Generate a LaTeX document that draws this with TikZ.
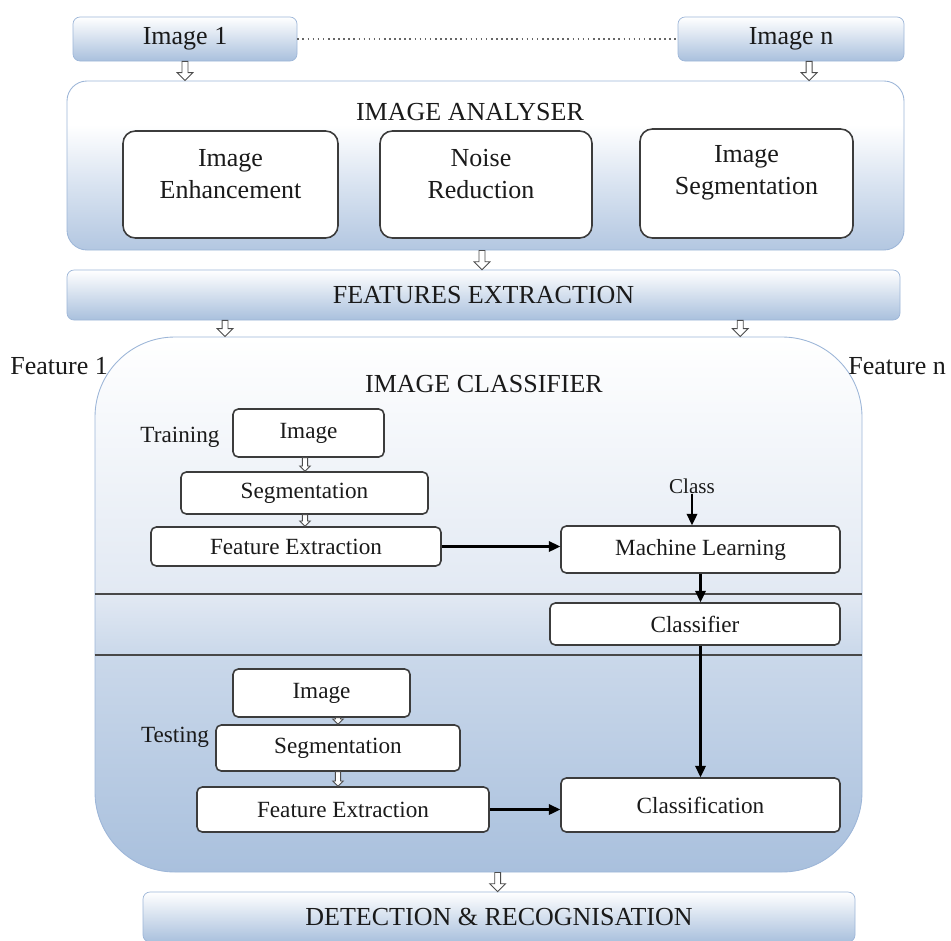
\documentclass[tikz,border=0pt]{standalone}
\usepackage{fontspec}
\setmainfont{Liberation Serif}
\usetikzlibrary{arrows.meta,calc}
\definecolor{boxblue}{HTML}{A9C0DD}
\definecolor{anadark}{HTML}{B3C7E1}
\definecolor{anamid}{HTML}{DAE4F1}
\definecolor{clslow}{HTML}{CAD8EA}
\definecolor{clsmid}{HTML}{E2E9F3}
\definecolor{edgeblue}{HTML}{9DB6D8}
\definecolor{inkgray}{HTML}{1A1A1A}
\pgfdeclareverticalshading{anashade}{100bp}{color(0bp)=(anadark); color(25bp)=(anadark); color(45bp)=(anamid); color(62bp)=(white); color(100bp)=(white)}
\pgfdeclareverticalshading{clsshade}{100bp}{color(0bp)=(boxblue); color(25bp)=(boxblue); color(45.3bp)=(clslow); color(51bp)=(clsmid); color(75bp)=(white); color(100bp)=(white)}
\newcommand\diagbig{\fontsize{14.8}{18}\selectfont}
\newcommand\diagsmall{\fontsize{13.2}{15}\selectfont}
\newcommand\diagclass{\fontsize{12}{14}\selectfont}
\tikzset{
  bar/.style={draw=edgeblue, rounded corners=4pt, top color=white, bottom color=boxblue,
    font=\diagbig, text=inkgray, inner sep=0pt},
  panel/.style={draw=edgeblue, line width=0.5pt, inner sep=0pt},
  stage/.style={draw=inkgray!85, line width=0.9pt, fill=white, rounded corners=7pt, inner sep=0pt},
  box/.style={draw=inkgray!85, line width=0.9pt, fill=white, rounded corners=3pt,
    font=\diagsmall, text=inkgray, inner sep=0pt},
  headline/.style={font=\diagbig, text=inkgray, inner sep=0pt},
  note/.style={font=\diagsmall, text=inkgray, inner sep=0pt},
  divider/.style={draw=inkgray!80, line width=1pt},
  flow/.style={-{Triangle[length=6.5pt,width=6pt]}, line width=1.2pt, black},
  harrow/.style n args={3}{draw=black!70, fill=white, line width=0.5pt,
    to path={let \p1=(\tikztostart), \p2=(\tikztotarget) in
      (\x1-#1,\y1) -- (\x1-#1,\y2+#3) -- (\x1-#2,\y2+#3) -- (\x1,\y2)
      -- (\x1+#2,\y2+#3) -- (\x1+#1,\y2+#3) -- (\x1+#1,\y1) -- cycle}},
  hollow/.style={harrow={1.7pt}{4.5pt}{4.5pt}},
  hollowsm/.style={harrow={1.5pt}{3pt}{3pt}}
}
\begin{document}
\begin{tikzpicture}
  \useasboundingbox (0,0) rectangle (19.02,-18.82);
  \node[bar, minimum width=4.48cm, minimum height=0.88cm] (img1) at (3.70,-0.78) {Image 1};
  \node[bar, minimum width=4.52cm, minimum height=0.88cm] (imgn) at (15.82,-0.78) {Image n};
  \draw[dotted, line width=0.9pt, black!60] (img1.east) -- (imgn.west);

  \node[panel, rounded corners=0.4cm, shade, shading=anashade,
    minimum width=16.74cm, minimum height=3.38cm] (ana) at (9.71,-3.31) {};
  \node[headline] (anahead) at (9.40,-2.24) {IMAGE ANALYSER};
  \node[stage, minimum width=4.30cm, minimum height=2.14cm] (enh) at (4.61,-3.69) {};
  \node[stage, minimum width=4.24cm, minimum height=2.14cm] (noise) at (9.72,-3.69) {};
  \node[stage, minimum width=4.26cm, minimum height=2.18cm] (seg) at (14.93,-3.67) {};
  \node[headline, align=center] (enhtext) at (4.61,-3.48) {Image\\Enhancement};
  \node[headline, align=center] (noisetext) at (9.62,-3.48) {Noise\\Reduction};
  \node[headline, align=center] (segtext) at (14.93,-3.46) {Image\\Segmentation};

  \node[bar, minimum width=16.66cm, minimum height=1.0cm] (feat) at (9.67,-5.90) {FEATURES EXTRACTION};

  \node[panel, rounded corners=1.6cm, shade, shading=clsshade,
    minimum width=15.34cm, minimum height=10.70cm] (cls) at (9.57,-12.09) {};
  \draw[divider] (cls.west |- 0,-11.88) -- (cls.east |- 0,-11.88);
  \draw[divider] (cls.west |- 0,-13.10) -- (cls.east |- 0,-13.10);
  \node[headline] (clshead) at (9.68,-7.68) {IMAGE CLASSIFIER};
  \node[headline, anchor=west] (feat1) at (0.20,-7.32) {Feature 1};
  \node[headline, anchor=west] (featn) at (16.96,-7.32) {Feature n};

  \node[note] (training) at (3.60,-8.74) {Training};
  \node[box, minimum width=3.02cm, minimum height=0.96cm] (trimg) at (6.17,-8.66) {Image};
  \node[box, minimum width=4.94cm, minimum height=0.84cm] (trseg) at (6.09,-9.86) {Segmentation};
  \node[box, minimum width=5.80cm, minimum height=0.78cm] (trfe) at (5.92,-10.93) {Feature Extraction};
  \node[note, font=\diagclass] (classin) at (13.84,-9.72) {Class};
  \node[box, minimum width=5.58cm, minimum height=0.94cm] (ml) at (14.01,-10.99) {Machine Learning};
  \node[box, minimum width=5.80cm, minimum height=0.84cm] (clf) at (13.90,-12.48) {Classifier};

  \node[box, minimum width=3.54cm, minimum height=0.96cm] (teimg) at (6.43,-13.86) {Image};
  \node[note] (testing) at (3.50,-14.74) {Testing};
  \node[box, minimum width=4.88cm, minimum height=0.92cm] (teseg) at (6.76,-14.96) {Segmentation};
  \node[box, minimum width=5.84cm, minimum height=0.90cm] (tefe) at (6.86,-16.19) {Feature Extraction};
  \node[box, minimum width=5.58cm, minimum height=1.08cm] (cln) at (14.01,-16.10) {Classification};

  \node[bar, minimum width=14.24cm, minimum height=1.0cm] (det) at (9.98,-18.34) {DETECTION \& RECOGNISATION};

  \draw[hollow] (img1.south) to (ana.north);
  \draw[hollow] ($(imgn.south west)!0.58!(imgn.south east)$) to (ana.north);
  \draw[hollow] ([xshift=-0.07cm]ana.south) to (feat.north);
  \draw[hollow] ($(feat.south west)!0.19!(feat.south east)$) to (cls.north);
  \draw[hollow] ($(feat.south west)!0.808!(feat.south east)$) to (cls.north);
  \draw[hollowsm] ([xshift=-0.07cm]trimg.south) to (trseg.north);
  \draw[hollowsm] ([xshift=0.01cm]trseg.south) to (trfe.north);
  \draw[hollowsm] (teimg.south -| teseg.north) to (teseg.north);
  \draw[hollowsm] (teseg.south) to (tefe.north);
  \draw[hollow] ($(cls.south west)!0.525!(cls.south east)$) to (det.north);

  \draw[flow] (trfe.east) -- (trfe.east -| ml.west);
  \draw[flow] (classin.south) -- (classin.south |- ml.north);
  \draw[flow] (ml.south) -- (ml.south |- clf.north);
  \draw[flow] (ml.south |- clf.south) -- (ml.south |- cln.north);
  \draw[flow] (tefe.east) -- (tefe.east -| cln.west);
\end{tikzpicture}
\end{document}
